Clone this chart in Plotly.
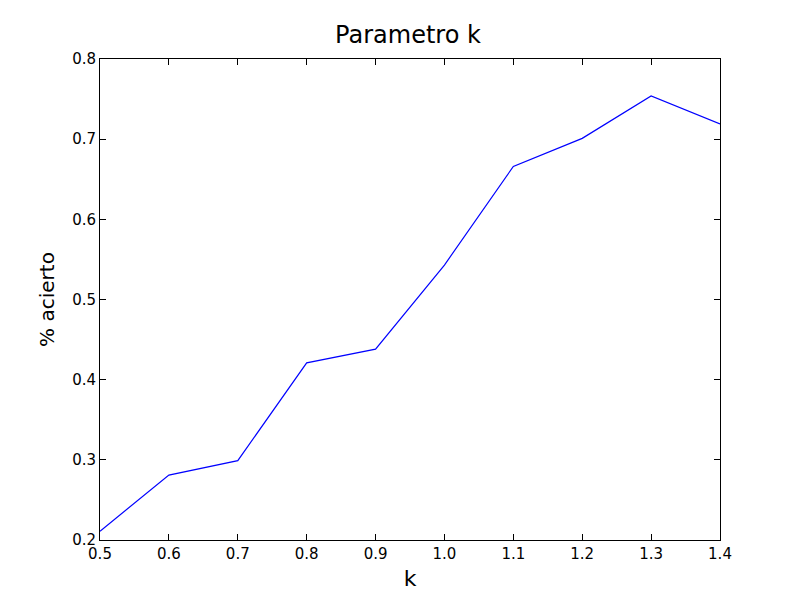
import plotly.graph_objects as go

k = [0.5, 0.6, 0.7, 0.8, 0.9, 1.0, 1.1, 1.2, 1.3, 1.4]
acierto = [0.211, 0.281, 0.299, 0.421, 0.438, 0.543, 0.666, 0.701, 0.754, 0.719]

fig = go.Figure()
fig.add_trace(go.Scatter(x=k, y=acierto, mode='lines', line=dict(color='#0000ff', width=1.2)))

axis = dict(showgrid=False, zeroline=False, showline=True, linecolor='black', linewidth=1,
            mirror='ticks', ticks='inside', ticklen=6, tickcolor='black', automargin=False,
            tickfont=dict(size=15, color='black'))
fig.update_layout(
    width=800, height=600, plot_bgcolor='white', paper_bgcolor='white',
    font=dict(family='DejaVu Sans', color='black'),
    title=dict(text='Parametro k', x=0.5, xanchor='center', y=0.97, font=dict(size=24)),
    margin=dict(l=92, r=88, t=51, b=68),
    showlegend=False,
    xaxis=dict(axis, range=[0.5, 1.4], dtick=0.1, tickformat='.1f',
               title=dict(text='k', font=dict(size=22), standoff=8)),
    yaxis=dict(axis, range=[0.2, 0.8], dtick=0.1, tickformat='.1f',
               title=dict(text='% acierto', font=dict(size=20), standoff=12)),
)
fig.write_html("out.html")
